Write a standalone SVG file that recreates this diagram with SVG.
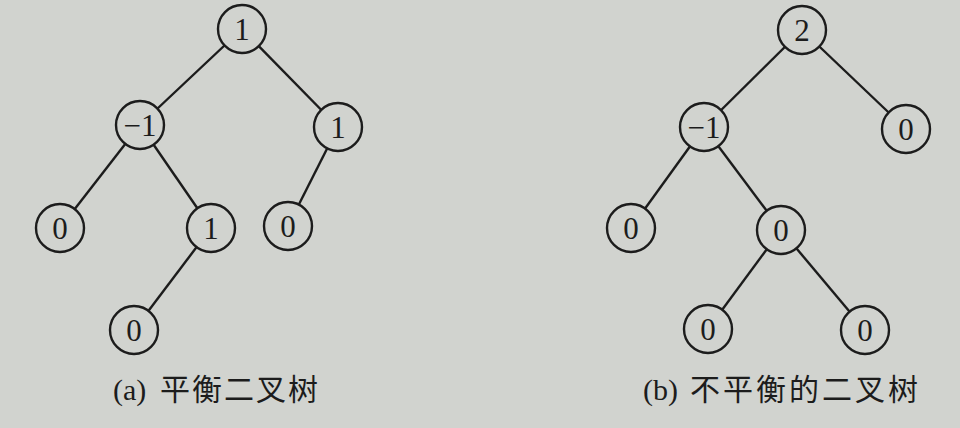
<svg xmlns="http://www.w3.org/2000/svg" width="960" height="428" viewBox="0 0 960 428">
<style>
.bg{fill:#d1d3cf}
.edge{stroke:#1c1c1c;stroke-width:2.4;fill:none}
.node circle{fill:#d1d3cf;stroke:#1c1c1c;stroke-width:2.4}
.node text{font-family:"Liberation Serif",serif;font-size:31px;fill:#1c1c1c;text-anchor:middle}
.cap{font-family:"Liberation Serif","Noto Sans CJK SC",serif;font-size:30px;fill:#1c1c1c}
.cjk{font-family:"Noto Sans CJK SC",sans-serif}
</style>
<rect class="bg" x="0" y="0" width="960" height="428"/>
<g id="connectors">
<line class="edge" x1="242" y1="29" x2="140" y2="125"/>
<line class="edge" x1="242" y1="29" x2="338" y2="127"/>
<line class="edge" x1="140" y1="125" x2="60" y2="228"/>
<line class="edge" x1="140" y1="125" x2="211" y2="228"/>
<line class="edge" x1="338" y1="127" x2="288" y2="226"/>
<line class="edge" x1="211" y1="228" x2="134" y2="330"/>
<line class="edge" x1="802" y1="30" x2="704" y2="127"/>
<line class="edge" x1="802" y1="30" x2="906" y2="129"/>
<line class="edge" x1="704" y1="127" x2="631" y2="228"/>
<line class="edge" x1="704" y1="127" x2="781" y2="230"/>
<line class="edge" x1="781" y1="230" x2="708" y2="329"/>
<line class="edge" x1="781" y1="230" x2="865" y2="330"/>
</g>
<g id="a1" class="node"><circle cx="242" cy="29" r="24"/><text x="242" y="40">1</text></g>
<g id="a2" class="node"><circle cx="140" cy="125" r="24"/><text x="140" y="136">−1</text></g>
<g id="a3" class="node"><circle cx="338" cy="127" r="24"/><text x="338" y="138">1</text></g>
<g id="a4" class="node"><circle cx="60" cy="228" r="24"/><text x="60" y="239">0</text></g>
<g id="a5" class="node"><circle cx="211" cy="228" r="24"/><text x="211" y="239">1</text></g>
<g id="a6" class="node"><circle cx="288" cy="226" r="24"/><text x="288" y="237">0</text></g>
<g id="a7" class="node"><circle cx="134" cy="330" r="24"/><text x="134" y="341">0</text></g>
<g id="b1" class="node"><circle cx="802" cy="30" r="24"/><text x="802" y="41">2</text></g>
<g id="b2" class="node"><circle cx="704" cy="127" r="24"/><text x="704" y="138">−1</text></g>
<g id="b3" class="node"><circle cx="906" cy="129" r="24"/><text x="906" y="140">0</text></g>
<g id="b4" class="node"><circle cx="631" cy="228" r="24"/><text x="631" y="239">0</text></g>
<g id="b5" class="node"><circle cx="781" cy="230" r="24"/><text x="781" y="241">0</text></g>
<g id="b6" class="node"><circle cx="708" cy="329" r="24"/><text x="708" y="340">0</text></g>
<g id="b7" class="node"><circle cx="865" cy="330" r="24"/><text x="865" y="341">0</text></g>
<g id="captions">
<text class="cap" x="113" y="400">(a)<tspan class="cjk" x="160" letter-spacing="2">平衡二叉树</tspan></text>
<text class="cap" x="643" y="400">(b)<tspan class="cjk" x="690" letter-spacing="3">不平衡的二叉树</tspan></text>
</g>
</svg>
